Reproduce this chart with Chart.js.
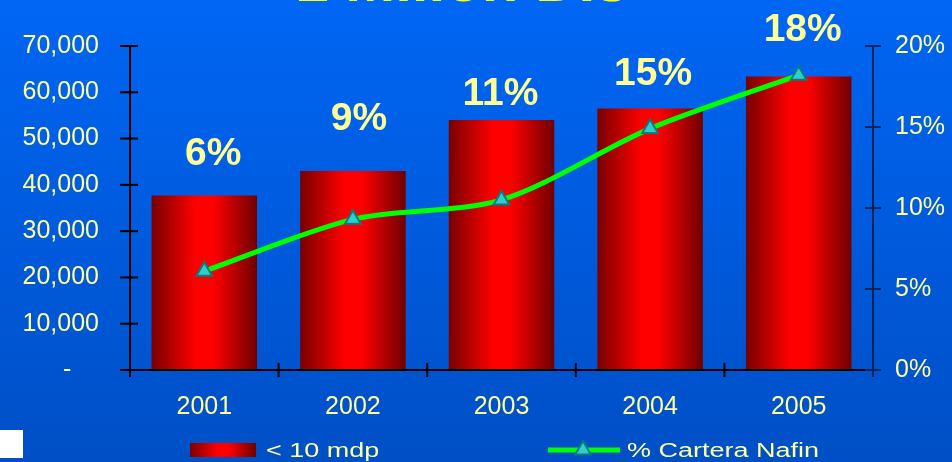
<!DOCTYPE html>
<html>
<head>
<meta charset="utf-8">
<title>Cartera menor a 10 mdp</title>
<script src="https://cdn.jsdelivr.net/npm/chart.js@4.4.1/dist/chart.umd.min.js"></script>
<style>
  html, body { margin: 0; padding: 0; background: #0058d8; }
  canvas { display: block; }
</style>
</head>
<body>
<canvas id="grafico" width="952" height="462"></canvas>
<script>
// Datos
const anos = ["2001", "2002", "2003", "2004", "2005"];
const carteraMenor10 = [37700, 43000, 54000, 56500, 63400];   // eje izquierdo
const pctCarteraNafin = [6.1, 9.3, 10.5, 14.9, 18.2];          // eje derecho (%)
const etiquetasPct = ["6%", "9%", "11%", "15%", "18%"];
const titulo = "< 1 Millón DIs";

const amarillo = "#ffff99";
const fuente = "'Liberation Sans', Arial, sans-serif";
Chart.defaults.font.family = fuente;

// Degradado horizontal de cada barra (tipo cilindro)
function degradadoRojo(ctx, x0, x1) {
    const g = ctx.createLinearGradient(x0, 0, x1, 0);
    g.addColorStop(0, "#780000");
    g.addColorStop(0.42, "#ff0000");
    g.addColorStop(0.58, "#ff0000");
    g.addColorStop(1, "#6e0000");
    return g;
}

function rellenoBarra(context) {
    const chart = context.chart;
    if (!chart.chartArea || context.type !== "data") return "#cc0000";
    const escalaX = chart.scales.x;
    const centro = escalaX.getPixelForValue(context.dataIndex);
    const mitad = (escalaX.width / anos.length) * 0.71 / 2;
    return degradadoRojo(chart.ctx, centro - mitad, centro + mitad);
}

// Fondo azul degradado + título recortado
const fondo = {
    id: "fondo",
    beforeDraw(chart) {
        const { ctx, width, height } = chart;
        ctx.save();
        const g = ctx.createLinearGradient(0, 0, 0, height);
        g.addColorStop(0, "#0066f4");
        g.addColorStop(1, "#004fc6");
        ctx.fillStyle = g;
        ctx.fillRect(0, 0, width, height);
        ctx.fillStyle = "#ffff00";
        ctx.font = "bold 60px " + fuente;
        ctx.textAlign = "center";
        ctx.textBaseline = "alphabetic";
        ctx.fillText(titulo, 436, 1);
        // viñeta blanca abajo a la izquierda
        ctx.fillStyle = "#ffffff";
        ctx.fillRect(0, 430, 23, 28);
        ctx.restore();
    }
};

// Ejes con marcas que cruzan la línea
const ejes = {
    id: "ejes",
    afterDatasetsDraw(chart) {
        const { ctx, chartArea: a, scales } = chart;
        const linea = (x1, y1, x2, y2) => {
            ctx.beginPath();
            ctx.moveTo(x1, y1);
            ctx.lineTo(x2, y2);
            ctx.stroke();
        };
        ctx.save();
        ctx.lineWidth = 2;
        ctx.strokeStyle = "#000000";
        linea(a.left, a.top, a.left, a.bottom + 7);
        scales.y.ticks.forEach((t) => {
            const y = scales.y.getPixelForValue(t.value);
            linea(a.left - 10, y, a.left + 8, y);
        });
        linea(a.left, a.bottom, a.right, a.bottom);
        const anchoCat = scales.x.width / anos.length;
        for (let i = 0; i <= anos.length; i++) {
            const x = a.left + i * anchoCat;
            linea(x, a.bottom - 7, x, a.bottom + 7);
        }
        ctx.strokeStyle = "#0b2455";
        linea(a.right, a.top, a.right, a.bottom + 7);
        scales.y1.ticks.forEach((t) => {
            const y = scales.y1.getPixelForValue(t.value);
            linea(a.right - 8, y, a.right + 8, y);
        });
        ctx.restore();
    }
};

// Porcentajes sobre las barras
const etiquetas = {
    id: "etiquetas",
    afterDatasetsDraw(chart, args, opts) {
        const { ctx } = chart;
        const meta = chart.getDatasetMeta(0);
        ctx.save();
        ctx.fillStyle = amarillo;
        ctx.font = "bold 39px " + fuente;
        ctx.textAlign = "center";
        ctx.textBaseline = "alphabetic";
        meta.data.forEach((el, i) => {
            ctx.fillText(etiquetasPct[i], el.x + opts.dx[i], el.y - opts.alto[i]);
        });
        ctx.restore();
    }
};

// Leyenda dibujada a mano
const leyenda = {
    id: "leyenda",
    afterDraw(chart) {
        const { ctx } = chart;
        const dsLinea = chart.data.datasets[1];
        const yc = 450;
        ctx.save();
        ctx.fillStyle = degradadoRojo(ctx, 190, 256);
        ctx.fillRect(190, 443, 66, 14);

        ctx.strokeStyle = dsLinea.borderColor;
        ctx.lineWidth = dsLinea.borderWidth;
        ctx.beginPath();
        ctx.moveTo(548, yc);
        ctx.lineTo(620, yc);
        ctx.stroke();

        ctx.fillStyle = dsLinea.pointBackgroundColor;
        ctx.strokeStyle = dsLinea.pointBorderColor;
        ctx.lineWidth = dsLinea.pointBorderWidth;
        Chart.helpers.drawPoint(ctx, {
            pointStyle: "triangle",
            radius: dsLinea.pointRadius,
            borderWidth: dsLinea.pointBorderWidth,
            rotation: 0
        }, 583, yc);

        ctx.fillStyle = amarillo;
        ctx.font = "20px " + fuente;
        ctx.textBaseline = "alphabetic";
        const texto = (t, x) => {
            ctx.save();
            ctx.translate(x, 457);
            ctx.scale(1.35, 1);
            ctx.fillText(t, 0, 0);
            ctx.restore();
        };
        texto(chart.data.datasets[0].label, 266);
        texto(dsLinea.label, 627);
        ctx.restore();
    }
};

new Chart(document.getElementById("grafico"), {
    type: "bar",
    data: {
        labels: anos,
        datasets: [
            {
                label: "< 10 mdp",
                data: carteraMenor10,
                yAxisID: "y",
                backgroundColor: rellenoBarra,
                borderWidth: 0,
                barPercentage: 0.71,
                categoryPercentage: 1,
                order: 2
            },
            {
                type: "line",
                label: "% Cartera Nafin",
                data: pctCarteraNafin,
                yAxisID: "y1",
                borderColor: "#00ff00",
                borderWidth: 5,
                tension: 0.3,
                pointStyle: "triangle",
                pointRadius: 9,
                pointBackgroundColor: "#33cccc",
                pointBorderColor: "#008080",
                pointBorderWidth: 2,
                order: 1
            }
        ]
    },
    options: {
        responsive: false,
        animation: false,
        layout: { padding: { top: 43, left: 0, right: 0, bottom: 0 } },
        plugins: {
            legend: { display: false },
            tooltip: { enabled: false },
            etiquetas: {
                dx: [9, 6, -1, 3, 4],
                alto: [31, 41, 15, 23, 36]
            }
        },
        scales: {
            x: {
                offset: true,
                grid: { display: false, drawTicks: false },
                border: { display: false },
                ticks: { color: amarillo, font: { size: 25 }, padding: 22 },
                afterFit(scale) { scale.height = 92; }
            },
            y: {
                position: "left",
                min: 0,
                max: 70000,
                grid: { display: false, drawTicks: false },
                border: { display: false },
                ticks: {
                    stepSize: 10000,
                    color: amarillo,
                    font: { size: 25 },
                    padding: 31,
                    callback: (v) => v === 0 ? "-    " : v.toLocaleString("en-US")
                },
                afterFit(scale) { scale.width = 130; }
            },
            y1: {
                position: "right",
                min: 0,
                max: 20,
                grid: { display: false, drawTicks: false },
                border: { display: false },
                ticks: {
                    stepSize: 5,
                    color: amarillo,
                    font: { size: 25 },
                    padding: 22,
                    callback: (v) => v + "%"
                },
                afterFit(scale) { scale.width = 79; }
            }
        }
    },
    plugins: [fondo, ejes, etiquetas, leyenda]
});
</script>
</body>
</html>
